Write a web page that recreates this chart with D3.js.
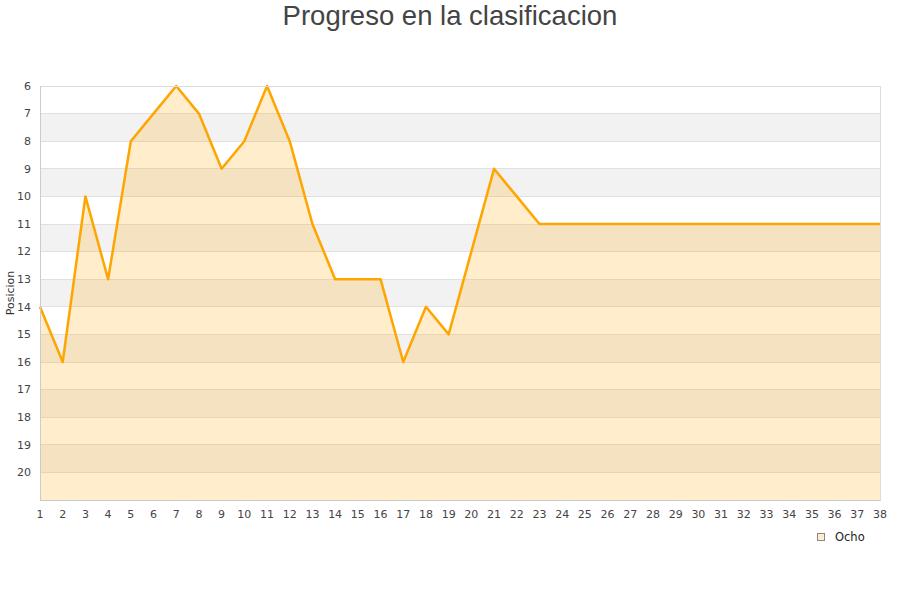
<!DOCTYPE html>
<html><head><meta charset="utf-8">
<script src="https://cdn.jsdelivr.net/npm/d3@7"></script>
<style>body{margin:0;background:#fff}svg{display:block}</style>
</head><body>
<svg id="c" width="900" height="600"></svg>
<script>
const title = "Progreso en la clasificacion";
const yTitle = "Posicion";
const seriesName = "Ocho";
const jornadas = d3.range(1, 39);
const posiciones = [14,16,10,13,8,7,6,7,9,8,6,8,11,13,13,13,16,14,15,12,9,10,11,11,11,11,11,11,11,11,11,11,11,11,11,11,11,11];
const yTicks = d3.range(6, 21);

const svg = d3.select("#c");
const m = {l:40, r:880, t:86, b:500};
const x = d3.scaleLinear().domain([1,38]).range([m.l, m.r]);
const y = d3.scaleLinear().domain([6,21]).range([m.t, m.b]);

// bands
const bands = d3.range(6, 21);
svg.selectAll("rect.band").data(bands).enter().append("rect")
  .attr("x", m.l).attr("width", m.r-m.l)
  .attr("y", d=>y(d)).attr("height", d=>y(d+1)-y(d))
  .attr("fill", d=> d%2===1 ? "#f2f2f2" : "#ffffff");
// grid
svg.selectAll("line.grid").data(d3.range(7,21)).enter().append("line")
  .attr("x1", m.l).attr("x2", m.r).attr("y1", d=>y(d)).attr("y2", d=>y(d))
  .attr("stroke", "#e0e0e0").attr("stroke-width", 1).attr("shape-rendering","crispEdges");

const data = jornadas.map((j,i)=>({j, p: posiciones[i]}));
svg.append("path").datum(data)
  .attr("d", d3.area().x(d=>x(d.j)).y0(m.b).y1(d=>y(d.p)))
  .attr("fill", "#ffa500").attr("fill-opacity", 0.2);
svg.append("path").datum(data)
  .attr("d", d3.line().x(d=>x(d.j)).y(d=>y(d.p)))
  .attr("fill", "none").attr("stroke", "#ffa500").attr("stroke-width", 2.5).attr("stroke-linejoin","round");

// frame
svg.append("rect").attr("x", m.l+0.5).attr("y", m.t+0.5).attr("width", m.r-m.l).attr("height", m.b-m.t)
  .attr("fill","none").attr("stroke","#dcdcdc").attr("shape-rendering","crispEdges");
svg.append("line").attr("x1", m.l+0.5).attr("x2", m.l+0.5).attr("y1", m.t).attr("y2", m.b)
  .attr("stroke","#ccc").attr("shape-rendering","crispEdges");
svg.append("line").attr("x1", m.l).attr("x2", m.r).attr("y1", m.b+0.5).attr("y2", m.b+0.5)
  .attr("stroke","#ccc").attr("shape-rendering","crispEdges");

const font = "'DejaVu Sans', Verdana, sans-serif";
svg.selectAll("text.yt").data(yTicks).enter().append("text")
  .attr("x", 31).attr("y", d=>y(d)).attr("dy","0.35em").attr("text-anchor","end")
  .attr("font-family", font).attr("font-size", 11).attr("fill","#444").text(d=>d);
svg.selectAll("text.xt").data(jornadas).enter().append("text")
  .attr("x", d=>x(d)).attr("y", 518).attr("text-anchor","middle")
  .attr("font-family", font).attr("font-size", 11).attr("fill","#444").text(d=>d);

svg.append("text").attr("transform","translate(14,293) rotate(-90)").attr("text-anchor","middle")
  .attr("font-family", font).attr("font-size", 11).attr("fill","#333").text(yTitle);

svg.append("text").attr("x", 450).attr("y", 25).attr("text-anchor","middle")
  .attr("font-family","'Liberation Sans', Arial, sans-serif").attr("font-size", 27.5).attr("fill","#444").text(title);

// legend
svg.append("rect").attr("x", 817.5).attr("y", 533.5).attr("width", 7).attr("height", 7)
  .attr("fill","#ffeccc").attr("stroke","#888");
svg.append("text").attr("x", 835).attr("y", 541).attr("font-family", font).attr("font-size", 11.5)
  .attr("fill","#222").text(seriesName);
</script>
</body></html>
